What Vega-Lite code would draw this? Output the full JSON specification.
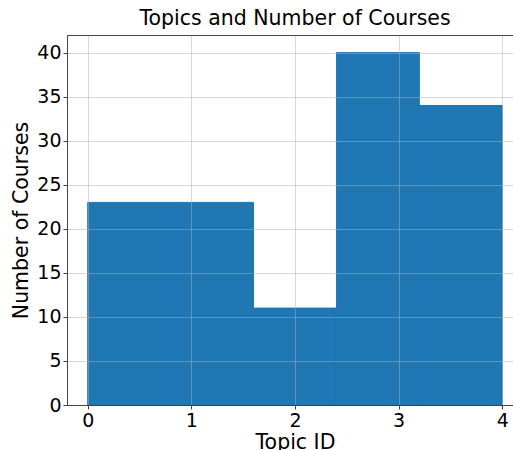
{
  "$schema": "https://vega.github.io/schema/vega-lite/v6.json",
  "width": 456,
  "height": 370,
  "autosize": {"type": "none"},
  "padding": {"left": 67, "top": 35, "right": 0, "bottom": 45},
  "background": "white",
  "config": {
    "font": "DejaVu Sans",
    "view": {"stroke": "#444", "strokeWidth": 1},
    "axis": {
      "labelFont": "DejaVu Sans",
      "titleFont": "DejaVu Sans",
      "labelFontSize": 19,
      "titleFontSize": 20.5,
      "labelColor": "#000",
      "titleColor": "#000",
      "titleFontWeight": "normal",
      "domainColor": "#444",
      "tickColor": "#444",
      "tickSize": 4,
      "gridColor": "#b0b0b0",
      "gridOpacity": 0.5
    },
    "title": {"font": "DejaVu Sans", "fontSize": 20.5, "fontWeight": "normal", "color": "#000"}
  },
  "title": {"text": "Topics and Number of Courses", "offset": 6},
  "data": {
    "values": [
      {"bin_start": 0.0, "bin_end": 0.8, "count": 23},
      {"bin_start": 0.8, "bin_end": 1.6, "count": 23},
      {"bin_start": 1.6, "bin_end": 2.4, "count": 11},
      {"bin_start": 2.4, "bin_end": 3.2, "count": 40},
      {"bin_start": 3.2, "bin_end": 4.0, "count": 34}
    ]
  },
  "mark": {"type": "bar", "color": "#1f77b4", "stroke": "#1f77b4", "strokeWidth": 1, "clip": true},
  "encoding": {
    "x": {
      "field": "bin_start",
      "type": "quantitative",
      "scale": {"domain": [-0.2, 4.2], "nice": false, "zero": false},
      "axis": {"title": "Topic ID", "values": [0, 1, 2, 3, 4], "format": "d", "labelPadding": 2, "titlePadding": 2, "zindex": 1}
    },
    "x2": {"field": "bin_end"},
    "y": {
      "field": "count",
      "type": "quantitative",
      "scale": {"domain": [0, 42], "nice": false},
      "axis": {"title": "Number of Courses", "values": [0, 5, 10, 15, 20, 25, 30, 35, 40], "labelPadding": 2, "titlePadding": 5, "zindex": 1}
    },
    "y2": {"datum": 0}
  }
}
